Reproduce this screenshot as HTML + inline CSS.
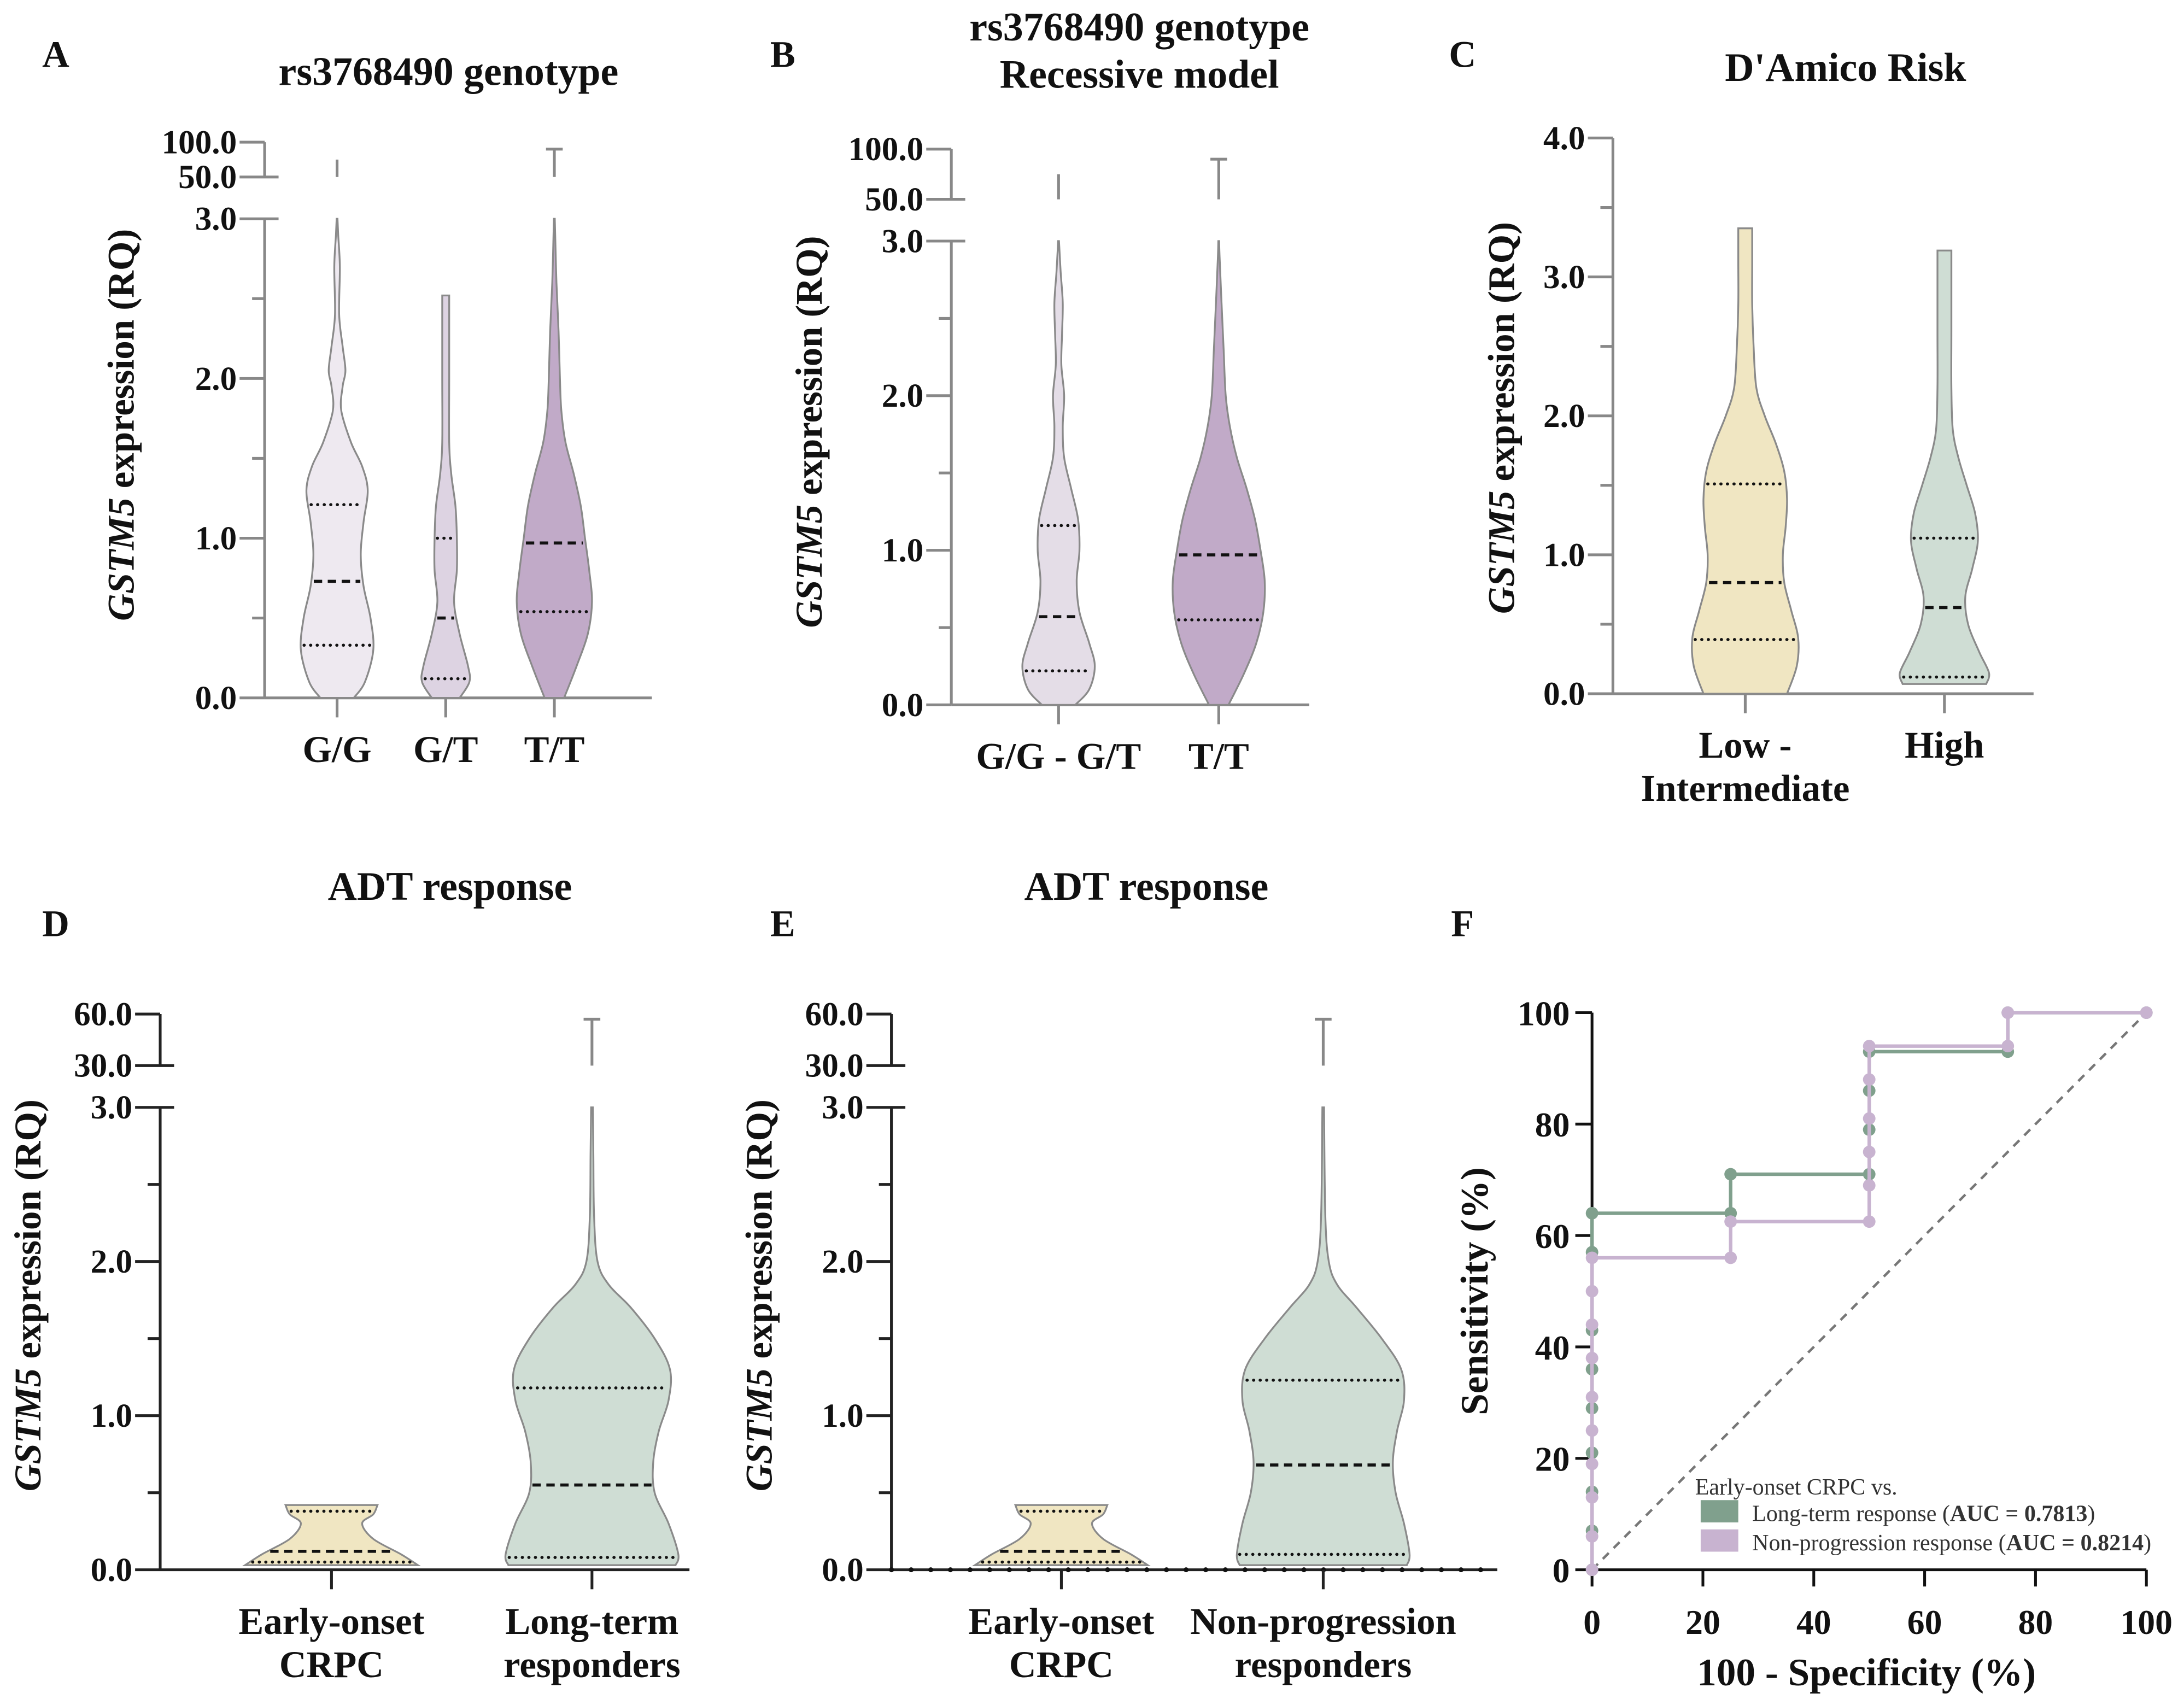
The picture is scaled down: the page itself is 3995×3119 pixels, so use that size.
<!DOCTYPE html>
<html><head><meta charset="utf-8"><style>
html,body{margin:0;padding:0;background:#fff;}
svg{display:block;}
</style></head><body>
<svg id="fig" width="3995" height="3119" viewBox="0 0 1568 1224" xmlns="http://www.w3.org/2000/svg" font-family="'Liberation Serif', serif" font-weight="bold" fill="#111"></svg>
<script>
// ===== DATA =====
// Panel A
const aCategories = ["G/G","G/T","T/T"];
const aGG_vals = [0,0.1,0.3,0.5,0.7,0.9,1.1,1.3,1.45,1.6,1.8,1.95,2.05,2.2,2.4,2.7,2.9,3.0];
const aGG_wid  = [12,20,26,24,19,17,19,22,18,10,3,4,6,4,1.5,2,0.8,0.3];
const aGT_vals = [0,0.1,0.2,0.4,0.6,0.8,1.0,1.2,1.4,1.6,2.0,2.52];
const aGT_wid  = [10,17,16,10,6,8,8,7,4,2.5,2.5,2.5];
const aTT_vals = [0,0.2,0.4,0.6,0.8,1.0,1.2,1.4,1.6,1.8,2.0,2.3,2.6,2.9,3.0];
const aTT_wid  = [7,16,24,27,25,22,19,14,8,5,4,3,1.5,0.6,0.3];
const aMedians = [0.73,0.5,0.97];
const aQ1 = [0.33,0.12,0.54];
const aQ3 = [1.21,1.0,null];
const aUpperMax = [75,null,90];
// Panel B
const bCategories = ["G/G - G/T","T/T"];
const b1_vals = [0,0.1,0.25,0.4,0.6,0.8,1.0,1.2,1.4,1.6,1.8,2.0,2.2,2.4,2.6,2.8,3.0];
const b1_wid  = [12,22,26,22,15,13,15,14,9,4,3,4,2,2.5,3,1.5,0.3];
const b2_vals = [0,0.2,0.4,0.6,0.8,1.0,1.2,1.4,1.6,1.8,2.0,2.3,2.6,2.9,3.0];
const b2_wid  = [7,18,27,32,33,30,26,20,13,8,5,3.5,2,0.6,0.3];
const bMedians = [0.57,0.97];
const bQ1 = [0.22,0.55];
const bQ3 = [1.16,null];
const bUpperMax = [75,90];
// Panel C
const cCategories = ["Low -|Intermediate","High"];
const c1_vals = [0,0.2,0.4,0.6,0.8,1.0,1.2,1.4,1.6,1.8,2.0,2.2,2.5,2.8,3.1,3.35];
const c1_wid  = [30,37,38,33,28,27,29,30,28,22,14,8,6,5,5,5];
const c2_vals = [0.07,0.15,0.3,0.5,0.7,0.9,1.1,1.3,1.5,1.7,1.9,2.2,2.6,3.0,3.19];
const c2_wid  = [30,32,25,17,15,20,24,22,16,10,6,5,5,5,5];
const cMedians = [0.8,0.62];
const cQ1 = [0.39,0.12];
const cQ3 = [1.51,1.12];
// Panel D
const dCategories = ["Early-onset|CRPC","Long-term|responders"];
const d1_vals = [0.03,0.1,0.2,0.3,0.36,0.42];
const d1_wid  = [62,50,30,22,30,33];
const d2_vals = [0.03,0.1,0.3,0.5,0.7,0.9,1.1,1.3,1.5,1.7,1.85,2.0,2.3,2.7,3.0];
const d2_wid  = [60,62,55,45,44,48,55,56,45,28,12,4,1.5,1,0.6];
const dMedians = [0.12,0.55];
const dQ1 = [0.05,0.08];
const dQ3 = [0.38,1.18];
const dUpperMax = [null,57];
// Panel E
const eCategories = ["Early-onset|CRPC","Non-progression|responders"];
const e2_vals = [0.03,0.1,0.3,0.5,0.7,0.9,1.1,1.3,1.5,1.7,1.85,2.0,2.3,3.0];
const e2_wid  = [60,62,58,52,50,53,58,56,42,24,10,4,1.5,0.6];
const eMedians = [0.12,0.68];
const eQ1 = [0.05,0.1];
const eQ3 = [0.38,1.23];
const eUpperMax = [null,57];
// Panel F (ROC)
const fXTicks = [0,20,40,60,80,100];
const fYTicks = [0,20,40,60,80,100];
const rocLongX = [0,0,0,0,0,0,0,0,0,25,25,50,50,50,50,75,75,100];
const rocLongY = [0,7,14,21,29,36,43,57,64,64,71,71,79,86,93,93,100,100];
const rocNonX = [0,0,0,0,0,0,0,0,0,0,25,25,50,50,50,50,50,50,75,75,100];
const rocNonY = [0,6,13,19,25,31,38,44,50,56,56,62.5,62.5,69,75,81,88,94,94,100,100];
const aucLong = "0.7813";
const aucNon = "0.8214";

// ===== HELPERS =====
const NS="http://www.w3.org/2000/svg";
const svg=document.getElementById('fig');
function el(tag,attrs,parent){const e=document.createElementNS(NS,tag);for(const k in attrs)e.setAttribute(k,attrs[k]);(parent||svg).appendChild(e);return e;}
function txt(s,x,y,size,parent,extra){const t=el('text',Object.assign({x:x,y:y,'font-size':size,'text-anchor':'middle'},extra||{}),parent);t.textContent=s;return t;}
function linScale(d0,d1,r0,r1){return v=>r0+(v-d0)*(r1-r0)/(d1-d0);}
function smoothPath(pts){let d="M"+pts[0][0]+","+pts[0][1];for(let i=0;i<pts.length-1;i++){const p0=pts[i-1]||pts[i],p1=pts[i],p2=pts[i+1],p3=pts[i+2]||p2;const c1=[p1[0]+(p2[0]-p0[0])/6,p1[1]+(p2[1]-p0[1])/6];const c2=[p2[0]-(p3[0]-p1[0])/6,p2[1]-(p3[1]-p1[1])/6];d+=" C"+c1[0].toFixed(2)+","+c1[1].toFixed(2)+" "+c2[0].toFixed(2)+","+c2[1].toFixed(2)+" "+p2[0].toFixed(2)+","+p2[1].toFixed(2);}return d;}
function widthAt(vals,wid,v){if(v<=vals[0])return wid[0];for(let i=0;i<vals.length-1;i++){if(v>=vals[i]&&v<=vals[i+1]){const t=(v-vals[i])/(vals[i+1]-vals[i]);return wid[i]+t*(wid[i+1]-wid[i]);}}return wid[wid.length-1];}
function violin(g,cx,y,vals,wid,fill,med,q1,q3,name){
  const right=vals.map((v,i)=>[cx+wid[i],y(v)]);
  const left=vals.map((v,i)=>[cx-wid[i],y(v)]).reverse();
  const top=vals.length-1;
  let d=smoothPath(right)+" L"+(cx-wid[top])+","+y(vals[top])+" "+smoothPath(left).slice(1).replace(/^[^C]*/,"")+" Z";
  const p=el('path',{d:d,fill:fill,stroke:'#8a8a8a','stroke-width':1.3},g);
  
  
  const ql=(v,dash,nm)=>{if(v==null)return;const w=widthAt(vals,wid,v)-2;const l=el('line',{x1:cx-w,x2:cx+w,y1:y(v),y2:y(v),stroke:'#111','stroke-width':dash?2.2:2.2,'stroke-dasharray':dash?'6,4':'0.1,4.6','stroke-linecap':dash?'butt':'round'},g);
    
    };
  ql(med,true,name+'-median');ql(q1,false,name+'-q1');ql(q3,false,name+'-q3');
}
function whisker(g,cx,ya,yb,cap,col){el('line',{x1:cx,x2:cx,y1:ya,y2:yb,stroke:col||'#888','stroke-width':2},g);if(cap)el('line',{x1:cx-6,x2:cx+6,y1:yb,y2:yb,stroke:col||'#888','stroke-width':2},g);}
function yLabel(g,x,y){const t=el('text',{x:0,y:0,'font-size':27,'text-anchor':'middle',transform:'translate('+x+','+y+') rotate(-90)'},g);
  const s1=el('tspan',{'font-style':'italic'},t);s1.textContent='GSTM5';const s2=el('tspan',{},t);s2.textContent=' expression (RQ)';
  }
function brokenAxis(g,ax,y,uY,uLabels,yTop,yBot,xEnd,col,ticks){
  el('line',{x1:ax,x2:ax,y1:uY[0],y2:uY[1],stroke:col,'stroke-width':2},g);
  el('line',{x1:ax-18,x2:ax,y1:uY[0],y2:uY[0],stroke:col,'stroke-width':2},g);
  el('line',{x1:ax-18,x2:ax+10,y1:uY[1],y2:uY[1],stroke:col,'stroke-width':2},g);
  txt(uLabels[0],ax-20,uY[0]+8,24,g,{'text-anchor':'end'});
  txt(uLabels[1],ax-20,uY[1]+8,24,g,{'text-anchor':'end'});
  el('line',{x1:ax,x2:ax,y1:yTop,y2:yBot,stroke:col,'stroke-width':2},g);
  el('line',{x1:ax,x2:xEnd,y1:yBot,y2:yBot,stroke:col,'stroke-width':2},g);
  ticks.forEach(v=>{const major=Math.abs(v-Math.round(v))<1e-6;const x2=(v===3)?ax+10:ax;
    el('line',{x1:ax-(major?18:9),x2:x2,y1:y(v),y2:y(v),stroke:col,'stroke-width':2},g);
    if(major)txt(v.toFixed(1),ax-20,y(v)+8,24,g,{'text-anchor':'end'});});
}
function catLabels(g,cats,xs,yBot,col){cats.forEach((c,i)=>{el('line',{x1:xs[i],x2:xs[i],y1:yBot,y2:yBot+14,stroke:col,'stroke-width':2},g);
  const parts=c.split('|');parts.forEach((p,j)=>{const t=txt(p,xs[i],yBot+46+j*31,27,g);});});}
function panel(name){const g=el('g',{});return g;}
const halfTicks=[0,0.5,1,1.5,2,2.5,3];

// ===== PANEL A =====
(function(){const g=panel('panel-a');
 txt('A',40,48,27,g);txt('rs3768490 genotype',322,61,29,g);
 const y=linScale(0,3,501,157);const xs=[242,320,398];
 brokenAxis(g,190,y,[102,127],['100.0','50.0'],157,501,468,'#888',halfTicks);
 violin(g,xs[0],y,aGG_vals,aGG_wid,'#eee9f0',aMedians[0],aQ1[0],aQ3[0],'violin-gg');
 violin(g,xs[1],y,aGT_vals,aGT_wid,'#ddd3e2',aMedians[1],aQ1[1],aQ3[1],'violin-gt');
 violin(g,xs[2],y,aTT_vals,aTT_wid,'#c1aac8',aMedians[2],aQ1[2],aQ3[2],'violin-tt');
 const uy=linScale(50,100,127,102);
 aUpperMax.forEach((m,i)=>{if(m!=null)whisker(g,xs[i],127,uy(m),i===2);});
 catLabels(g,aCategories,xs,501,'#888');yLabel(g,96,305);})();

// ===== PANEL B =====
(function(){const g=panel('panel-b');
 txt('B',562,48,27,g);txt('rs3768490 genotype',818,29,29,g);txt('Recessive model',818,63,29,g);
 const y=linScale(0,3,506,173);const xs=[760,875];
 brokenAxis(g,683,y,[107,143],['100.0','50.0'],173,506,940,'#888',halfTicks);
 violin(g,xs[0],y,b1_vals,b1_wid,'#e4dde7',bMedians[0],bQ1[0],bQ3[0],'violin-gg-gt');
 violin(g,xs[1],y,b2_vals,b2_wid,'#c1aac8',bMedians[1],bQ1[1],bQ3[1],'violin-tt');
 const uy=linScale(50,100,143,107);
 bUpperMax.forEach((m,i)=>{if(m!=null)whisker(g,xs[i],143,uy(m),i===1);});
 catLabels(g,bCategories,xs,506,'#888');yLabel(g,590,310);})();

// ===== PANEL C =====
(function(){const g=panel('panel-c');
 txt('C',1050,48,27,g);txt("D'Amico Risk",1325,58,29,g);
 const y=linScale(0,4,498,99);const xs=[1253,1396];const ax=1158;
 el('line',{x1:ax,x2:ax,y1:99,y2:498,stroke:'#888','stroke-width':2},g);
 el('line',{x1:ax,x2:1460,y1:498,y2:498,stroke:'#888','stroke-width':2},g);
 [0,0.5,1,1.5,2,2.5,3,3.5,4].forEach(v=>{const major=Math.abs(v-Math.round(v))<1e-6;
  el('line',{x1:ax-(major?18:9),x2:ax,y1:y(v),y2:y(v),stroke:'#888','stroke-width':2},g);
  if(major)txt(v.toFixed(1),ax-20,y(v)+8,24,g,{'text-anchor':'end'});});
 violin(g,xs[0],y,c1_vals,c1_wid,'#f0e6c2',cMedians[0],cQ1[0],cQ3[0],'violin-low-intermediate');
 violin(g,xs[1],y,c2_vals,c2_wid,'#cfddd4',cMedians[1],cQ1[1],cQ3[1],'violin-high');
 catLabels(g,cCategories,xs,498,'#888');yLabel(g,1087,300);})();

// ===== PANEL D & E =====
function adtPanel(nm,letter,lx,cx,ax,xEnd,xs,cats,v2,w2,fill2,med,q1,q3,up,dotted){
 const g=panel(nm);
 txt(letter,lx,672,27,g);txt('ADT response',cx,646,29,g);
 const y=linScale(0,3,1127,795);
 brokenAxis(g,ax,y,[728,765],['60.0','30.0'],795,1127,xEnd,'#222',halfTicks);
 if(dotted)el('line',{x1:ax,x2:xEnd,y1:1127,y2:1127,stroke:'#111','stroke-width':3.5,'stroke-linecap':'round','stroke-dasharray':'0.1,14'},g);
 violin(g,xs[0],y,d1_vals,d1_wid,'#f0e6c2',med[0],q1[0],q3[0],'violin-early-onset');
 violin(g,xs[1],y,v2,w2,'#cfddd4',med[1],q1[1],q3[1],'violin-responders');
 const uy=linScale(30,60,765,728);
 up.forEach((m,i)=>{if(m!=null)whisker(g,xs[i],765,uy(m),true);});
 catLabels(g,cats,xs,1127,'#222');yLabel(g,ax-86,930);
}
adtPanel('panel-d','D',40,323,115,495,[238,425],dCategories,d2_vals,d2_wid,'#cfddd4',dMedians,dQ1,dQ3,dUpperMax,false);
adtPanel('panel-e','E',562,823,640,1075,[762,950],eCategories,e2_vals,e2_wid,'#cfddd4',eMedians,eQ1,eQ3,eUpperMax,true);

// ===== PANEL F =====
(function(){const g=panel('panel-f');
 txt('F',1050,672,27,g);
 const x=linScale(0,100,1143,1541),y=linScale(0,100,1127,727);
 el('line',{x1:x(0),x2:x(100),y1:y(0),y2:y(100),stroke:'#777','stroke-width':1.8,'stroke-dasharray':'6,5'},g);
 el('line',{x1:x(0),x2:x(0),y1:y(0),y2:y(100),stroke:'#111','stroke-width':2},g);
 el('line',{x1:x(0),x2:x(100),y1:y(0),y2:y(0),stroke:'#111','stroke-width':2},g);
 fXTicks.forEach(v=>{el('line',{x1:x(v),x2:x(v),y1:y(0),y2:y(0)+12,stroke:'#111','stroke-width':2},g);txt(String(v),x(v),y(0)+46,25,g);});
 fYTicks.forEach(v=>{el('line',{x1:x(0)-12,x2:x(0),y1:y(v),y2:y(v),stroke:'#111','stroke-width':2},g);txt(String(v),x(0)-16,y(v)+9,25,g,{'text-anchor':'end'});});
 function roc(xsA,ysA,col,nm){const pts=xsA.map((v,i)=>x(v)+','+y(ysA[i])).join(' ');
  const pl=el('polyline',{points:pts,fill:'none',stroke:col,'stroke-width':2.5},g);
  
  xsA.forEach((v,i)=>{const c=el('circle',{cx:x(v),cy:y(ysA[i]),r:4.5,fill:col},g);
   });}
 roc(rocLongX,rocLongY,'#80a08d','roc-long-term');
 roc(rocNonX,rocNonY,'#c8b3d0','roc-non-progression');
 const lg=el('g',{},g);
 const sty={'text-anchor':'start','font-weight':'normal','font-size':16.5,fill:'#333'};
 txt('Early-onset CRPC vs.',1217,1073,16.5,lg,sty);
 el('rect',{x:1221,y:1077,width:27,height:16,fill:'#80a08d'},lg);
 el('rect',{x:1221,y:1098,width:27,height:16,fill:'#c8b3d0'},lg);
 const t1=txt('Long-term response  (',1258,1092,16.5,lg,sty);const b1=el('tspan',{'font-weight':'bold'},t1);b1.textContent='AUC = '+aucLong;const r1=el('tspan',{},t1);r1.textContent=')';
 const t2=txt('Non-progression response (',1258,1113,16.5,lg,sty);const b2=el('tspan',{'font-weight':'bold'},t2);b2.textContent='AUC = '+aucNon;const r2=el('tspan',{},t2);r2.textContent=')';
 const yl=el('text',{x:0,y:0,'font-size':28,'text-anchor':'middle',transform:'translate(1068,927) rotate(-90)'},g);yl.textContent='Sensitivity (%)';
 
 const xl=txt('100 - Specificity (%)',1340,1210,28,g);
})();
</script>
</body></html>
